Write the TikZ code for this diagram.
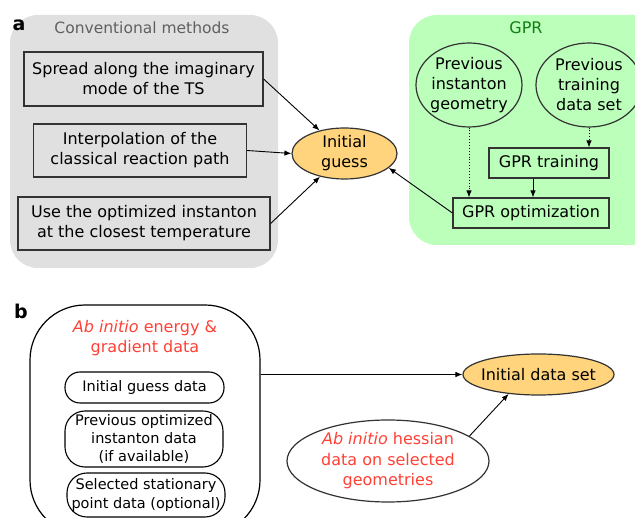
\documentclass[tikz,border=0pt]{standalone}
\usepackage{fontspec}
\setmainfont{DejaVu Sans}
\usetikzlibrary{shapes.geometric,arrows.meta}
\definecolor{graybg}{HTML}{E0E0E0}
\definecolor{greenbg}{HTML}{BBFFBB}
\definecolor{yel}{HTML}{FFD47D}
\definecolor{redt}{HTML}{FF4136}
\definecolor{greent}{HTML}{137D13}
\definecolor{grayt}{HTML}{606060}
\definecolor{edge}{HTML}{333333}
\newcommand\bigf{\fontsize{16}{20}\selectfont}
\newcommand\smallf{\fontsize{14.5}{18.3}\selectfont}
\begin{document}
\begin{tikzpicture}[x=1pt,y=-1pt,
  box/.style={draw=edge, line width=1.2pt, inner sep=0pt, align=center, font=\bigf},
  rbox/.style={draw=black, line width=1.1pt, inner sep=0pt, align=center, font=\smallf},
  ell/.style={ellipse, draw=edge, line width=1.2pt, inner sep=0pt},
  arr/.style={-{Latex[length=7pt,width=5.5pt]}, line width=0.9pt},
  panel/.style={font=\bfseries\fontsize{19}{19}\selectfont}]
\clip (0,0) rectangle (635,518);
\fill[white] (0,0) rectangle (635,518);
% panel a
\fill[graybg, rounded corners=28pt] (10,15) rectangle (278,268);
\fill[greenbg, rounded corners=28pt] (409,15) rectangle (680,245);
\node[panel] (la) at (19,25) {a};
\node[text=grayt, font=\fontsize{15.5}{18}\selectfont] (conv) at (142,28) {Conventional methods};
\node[text=greent, font=\bigf] (gprt) at (526,28) {GPR};
\node[box, minimum width=239pt, minimum height=54pt] (b1) at (143.5,79) {Spread along the imaginary\\mode of the TS};
\node[box, minimum width=213pt, minimum height=53pt] (b2) at (140,150.5) {Interpolation of the\\classical reaction path};
\node[box, minimum width=252pt, minimum height=53pt] (b3) at (144,223.5) {Use the optimized instanton\\at the closest temperature};
\node[ell, fill=yel, minimum width=105pt, minimum height=51pt,
  label={[align=center, font=\bigf]center:{Initial\\guess}}] (ig) at (344.5,153.5) {};
\node[ell, minimum width=106pt, minimum height=84pt,
  label={[align=center, font=\bigf]center:{Previous\\instanton\\geometry}}] (pig) at (469,85) {};
\node[ell, minimum width=106pt, minimum height=84pt,
  label={[align=center, font=\bigf]center:{Previous\\training\\data set}}] (ptd) at (589,85) {};
\node[box, minimum width=120pt, minimum height=30pt] (train) at (549,163) {GPR training};
\node[box, minimum width=156pt, minimum height=30pt] (opt) at (531,213) {GPR optimization};
\draw[arr] (b1.east) -- (ig);
\draw[arr] (b2.east) -- (ig.west);
\draw[arr] (b3.east) -- (ig);
\draw[arr, dotted] (pig.south) -- (pig.south |- opt.north);
\draw[arr, dotted] (ptd.south) -- (ptd.south |- train.north);
\draw[arr] ([xshift=-16pt]train.south) -- ([xshift=-16pt]train.south |- opt.north);
\draw[arr] (opt.west) -- (ig.-18);
% panel b
\node[panel] (lb) at (21,311) {b};
\node[draw=black, line width=1.2pt, rounded corners=55pt, minimum width=230pt, minimum height=230pt, inner sep=0pt] (abE) at (145,420) {};
\node[text=redt, font=\bigf, align=center] (abt) at (145,338) {\textit{Ab initio} energy \&\\gradient data};
\node[rbox, minimum width=159pt, minimum height=31pt, rounded corners=15pt] (igd) at (144.5,387.5) {Initial guess data};
\node[rbox, minimum width=158pt, minimum height=56pt, rounded corners=20pt] (poid) at (144,439) {Previous optimized\\instanton data\\(if available)};
\node[rbox, minimum width=158pt, minimum height=44pt, rounded corners=20pt] (sspd) at (146,495) {Selected stationary\\point data (optional)};
\node[ell, fill=yel, minimum width=151pt, minimum height=41pt,
  label={[font=\bigf]center:{Initial data set}}] (ids) at (538.5,374.5) {};
\node[ell, fill=white, minimum width=202pt, minimum height=82pt,
  label={[align=center, font=\fontsize{16}{20.5}\selectfont, text=redt]center:{\textit{Ab initio} hessian\\data on selected\\geometries}}] (hes) at (388,461) {};
\draw[arr] (abE.east |- ids.west) -- (ids.west);
\draw[arr] (hes.17) -- (ids.213);
\end{tikzpicture}
\end{document}
